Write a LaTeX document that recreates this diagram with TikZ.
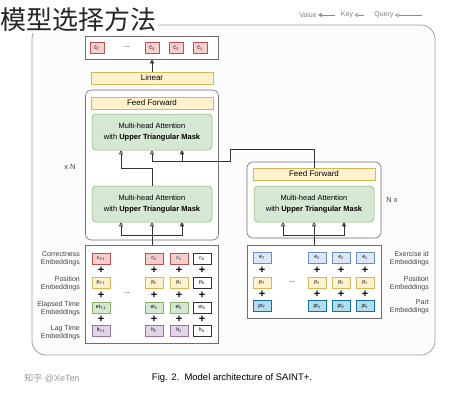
\documentclass[tikz,border=0pt]{standalone}
\usepackage{fontspec}
\setmainfont{Liberation Sans}
\newfontfamily\cjk{Noto Sans CJK SC}
\usepackage{xcolor}
\usepackage{tikz}
\usetikzlibrary{shapes,arrows.meta,positioning}
\definecolor{framecolor}{RGB}{160, 160, 160}
\definecolor{blockline}{RGB}{110, 110, 110}
\definecolor{pinkfill}{RGB}{248, 206, 204}
\definecolor{pinkline}{RGB}{184, 84, 80}
\definecolor{yellowfill}{RGB}{255, 242, 204}
\definecolor{yellowline}{RGB}{214, 182, 86}
\definecolor{greenfill}{RGB}{213, 232, 212}
\definecolor{greenline}{RGB}{130, 179, 102}
\definecolor{purplefill}{RGB}{225, 213, 231}
\definecolor{purpleline}{RGB}{150, 115, 166}
\definecolor{bluefill}{RGB}{218, 232, 252}
\definecolor{blueline}{RGB}{108, 142, 191}
\definecolor{tealfill}{RGB}{177, 221, 240}
\definecolor{tealline}{RGB}{16, 115, 158}

\begin{document}
\begin{tikzpicture}[x=1pt, y=-1pt]
    % Define styles
    \tikzstyle{cell} = [rectangle, minimum width=18pt, minimum height=11pt, inner sep=0pt, line width=0.5pt, font=\fontsize{5.2}{6}\selectfont]
    \tikzstyle{startcell} = [cell, draw=black!80, fill=white]
    \tikzstyle{pinkcell} = [cell, draw=pinkline, fill=pinkfill]
    \tikzstyle{yellowcell} = [cell, draw=yellowline, fill=yellowfill]
    \tikzstyle{greencell} = [cell, draw=greenline, fill=greenfill]
    \tikzstyle{purplecell} = [cell, draw=purpleline, fill=purplefill]
    \tikzstyle{bluecell} = [cell, draw=blueline, fill=bluefill]
    \tikzstyle{tealcell} = [cell, draw=tealline, fill=tealfill]
    \tikzstyle{sublayer} = [rectangle, minimum width=122pt, minimum height=12pt, inner sep=0pt, draw=yellowline, fill=yellowfill, line width=0.5pt, font=\fontsize{8}{9}\selectfont]
    \tikzstyle{attn} = [rectangle, rounded corners=4pt, minimum width=120pt, minimum height=36pt, align=center, draw=greenline, fill=greenfill, line width=0.5pt, font=\fontsize{7.5}{11}\selectfont]
    \tikzstyle{stack} = [rectangle, rounded corners=6pt, draw=blockline, fill=white, line width=0.6pt]
    \tikzstyle{embbox} = [rectangle, draw=blockline, fill=white, line width=0.6pt]
    \tikzstyle{plus} = [inner sep=0pt, font=\bfseries\fontsize{11}{11}\selectfont]
    \tikzstyle{dots} = [inner sep=0pt, font=\fontsize{7}{7}\selectfont]
    \tikzstyle{embtext} = [inner sep=0pt, font=\fontsize{7}{8}\selectfont, text=black!75]
    \tikzstyle{wire} = [line width=0.6pt, black!80]
    \tikzstyle{qarrow} = [wire, -{Triangle[open, length=4pt, width=4pt]}]
    \tikzstyle{karrow} = [wire, -{Triangle[open, length=4pt, width=4pt]}]
    \tikzstyle{varrow} = [wire, -{Triangle[length=4pt, width=4pt]}]

    \useasboundingbox (0,0) rectangle (456,400);

    % Outer frame and title
    \draw[framecolor, line width=0.8pt, fill=black!1, rounded corners=14pt] (32,25) rectangle (435,355);
    \node[font=\cjk\fontsize{26}{26}\selectfont, text=black!85, fill=white, inner sep=1pt] (title) at (79,20) {模型选择方法};

    % Legend
    \node[embtext, text=black!50] (lgvalue) at (308,15) {Value};
    \node[embtext, text=black!50] (lgkey) at (347,15) {Key};
    \node[embtext, text=black!50] (lgquery) at (384,15) {Query};
    \coordinate (lgvalueend) at (335,15);
    \coordinate (lgkeyend) at (364,15);
    \coordinate (lgqueryend) at (422,15);
    \draw[varrow, black!45] (lgvalueend) -- ([xshift=1pt]lgvalue.east);
    \draw[karrow, black!45] (lgkeyend) -- ([xshift=1pt]lgkey.east);
    \draw[qarrow, black!45] (lgqueryend) -- ([xshift=1pt]lgquery.east);

    % Output predictions
    \node[embbox, minimum width=133pt, minimum height=23pt] (outbox) at (152,47.5) {};
    \node[pinkcell, minimum width=14pt] (out1) at (200,48) {ĉ\textsubscript{1}};
    \node[pinkcell, minimum width=14pt] (out2) at (176,48) {ĉ\textsubscript{2}};
    \node[pinkcell, minimum width=14pt] (out3) at (152,48) {ĉ\textsubscript{3}};
    \node[dots] (outdots) at (127,47) {...};
    \node[pinkcell, minimum width=14pt] (outT) at (97,48) {ĉ\textsubscript{T}};

    % Decoder (left side)
    \node[sublayer] (linear) at (152,78) {Linear};
    \node[stack, minimum width=133pt, minimum height=150pt] (decstack) at (152,165) {};
    \node[sublayer] (decff) at (152,103) {Feed Forward};
    \node[attn] (decmha1) at (152,132) {Multi-head Attention\\with \textbf{Upper Triangular Mask}};
    \node[attn] (decmha2) at (152,204) {Multi-head Attention\\with \textbf{Upper Triangular Mask}};
    \node[embtext, font=\fontsize{7.5}{8}\selectfont] (decrep) at (70,167) {x N};

    % Encoder (right side)
    \node[stack, minimum width=134pt, minimum height=76pt] (encstack) at (314,200) {};
    \node[sublayer] (encff) at (314,174) {Feed Forward};
    \node[attn] (encmha) at (314,204) {Multi-head Attention\\with \textbf{Upper Triangular Mask}};
    \node[embtext, font=\fontsize{7.5}{8}\selectfont] (encrep) at (392,200) {N x};

    % Decoder input embeddings
    \node[embbox, minimum width=133pt, minimum height=98pt] (decemb) at (152,294) {};
    \node[startcell] (dcS) at (202,258.5) {c\textsubscript{S}};
    \node[pinkcell] (dc1) at (179,258.5) {c\textsubscript{1}};
    \node[pinkcell] (dc2) at (154,258.5) {c\textsubscript{2}};
    \node[pinkcell] (dcT) at (101,258.5) {c\textsubscript{T-1}};
    \node[startcell] (dpS) at (202,283) {p\textsubscript{S}};
    \node[yellowcell] (dp1) at (179,283) {p\textsubscript{1}};
    \node[yellowcell] (dp2) at (154,283) {p\textsubscript{2}};
    \node[yellowcell] (dpT) at (101,283) {p\textsubscript{T-1}};
    \node[startcell] (detS) at (202,307.5) {et\textsubscript{S}};
    \node[greencell] (det1) at (179,307.5) {et\textsubscript{1}};
    \node[greencell] (det2) at (154,307.5) {et\textsubscript{2}};
    \node[greencell] (detT) at (101,307.5) {et\textsubscript{T-1}};
    \node[startcell] (dltS) at (202,330.5) {lt\textsubscript{S}};
    \node[purplecell] (dlt1) at (179,330.5) {lt\textsubscript{1}};
    \node[purplecell] (dlt2) at (154,330.5) {lt\textsubscript{2}};
    \node[purplecell] (dltT) at (101,330.5) {lt\textsubscript{T-1}};
    \node[plus] at (202,270.5) {+}; \node[plus] at (179,270.5) {+}; \node[plus] at (154,270.5) {+}; \node[plus] at (101,270.5) {+};
    \node[plus] at (202,295) {+}; \node[plus] at (179,295) {+}; \node[plus] at (154,295) {+}; \node[plus] at (101,295) {+};
    \node[plus] at (202,319) {+}; \node[plus] at (179,319) {+}; \node[plus] at (154,319) {+}; \node[plus] at (101,319) {+};
    \node[dots] (decdots) at (127,293) {...};
    \node[embtext, anchor=east, align=right] (lblcorr) at (80,259) {Correctness\\Embeddings};
    \node[embtext, anchor=east, align=right] (lbldpos) at (80,284) {Position\\Embeddings};
    \node[embtext, anchor=east, align=right] (lblelap) at (80,308.5) {Elapsed Time\\Embeddings};
    \node[embtext, anchor=east, align=right] (lbllag) at (80,332.5) {Lag Time\\Embeddings};

    % Encoder input embeddings
    \node[embbox, minimum width=134pt, minimum height=73pt] (encemb) at (314,281.5) {};
    \node[bluecell] (ee1) at (365,257.5) {e\textsubscript{1}};
    \node[bluecell] (ee2) at (341,257.5) {e\textsubscript{2}};
    \node[bluecell] (ee3) at (317,257.5) {e\textsubscript{3}};
    \node[bluecell] (eeT) at (262,257.5) {e\textsubscript{T}};
    \node[yellowcell] (ep1) at (365,283) {p\textsubscript{1}};
    \node[yellowcell] (ep2) at (341,283) {p\textsubscript{2}};
    \node[yellowcell] (ep3) at (317,283) {p\textsubscript{3}};
    \node[yellowcell] (epT) at (262,283) {p\textsubscript{T}};
    \node[tealcell] (ept1) at (365,306) {pt\textsubscript{1}};
    \node[tealcell] (ept2) at (341,306) {pt\textsubscript{2}};
    \node[tealcell] (ept3) at (317,306) {pt\textsubscript{3}};
    \node[tealcell] (eptT) at (262,306) {pt\textsubscript{T}};
    \node[plus] at (365,270) {+}; \node[plus] at (341,270) {+}; \node[plus] at (317,270) {+}; \node[plus] at (262,270) {+};
    \node[plus] at (365,294.5) {+}; \node[plus] at (341,294.5) {+}; \node[plus] at (317,294.5) {+}; \node[plus] at (262,294.5) {+};
    \node[dots] (encdots) at (292,282) {...};
    \node[embtext, anchor=east, align=right] (lblex) at (429,259) {Exercise id\\Embeddings};
    \node[embtext, anchor=east, align=right] (lblepos) at (429,284) {Position\\Embeddings};
    \node[embtext, anchor=east, align=right] (lblpart) at (429,307) {Part\\Embeddings};

    % Junction points
    \coordinate (djoin) at (152,235);
    \coordinate (ejoin) at (314,235);
    \coordinate (qturn) at (121,168);
    \coordinate (kvtop) at (230,149);
    \coordinate (kv) at (230,161);
    \coordinate (kfoot) at (152,161);
    \coordinate (vfoot) at (182,161);

    % Decoder arrows
    \draw[varrow] (linear.north) -- (outbox.south);
    \draw[wire] (decemb.north) -- (djoin);
    \draw[qarrow] (djoin) -| ([xshift=-31pt]decmha2.south);
    \draw[karrow] (djoin) -- (decmha2.south);
    \draw[varrow] (djoin) -| ([xshift=30pt]decmha2.south);
    \draw[qarrow] (decmha2.north) |- (qturn) -- (qturn |- decmha1.south);

    % Encoder arrows
    \draw[wire] (encemb.north) -- (ejoin);
    \draw[qarrow] (ejoin) -| ([xshift=-31pt]encmha.south);
    \draw[karrow] (ejoin) -- (encmha.south);
    \draw[varrow] (ejoin) -| ([xshift=30pt]encmha.south);

    % Encoder output into decoder
    \draw[wire] (encff.north) |- (kvtop) -- (kv) -- (kfoot);
    \draw[karrow] (kfoot) -- (kfoot |- decmha1.south);
    \draw[varrow] (vfoot) -- (vfoot |- decmha1.south);

    % Caption
    \node[font=\fontsize{9.5}{10}\selectfont] (caption) at (232,378) {Fig. 2.\ \ Model architecture of SAINT+.};
    \node[font=\fontsize{9}{10}\selectfont, text=black!40] (watermark) at (52,378) {{\cjk 知乎} @XeTen};
\end{tikzpicture}
\end{document}
